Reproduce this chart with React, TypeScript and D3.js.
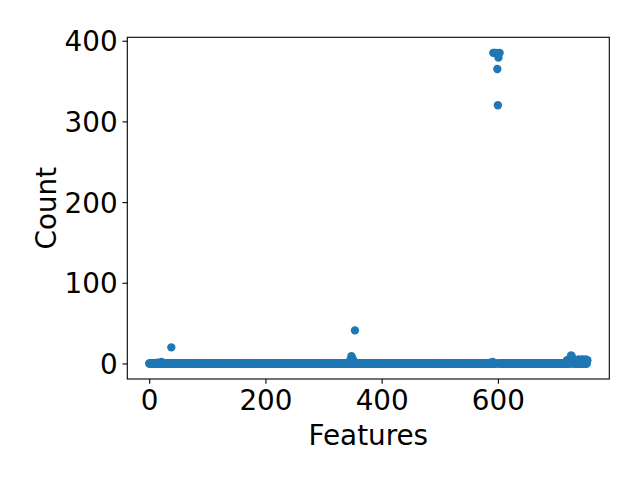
import React, { useRef, useEffect } from 'react';
import * as d3 from 'd3';

// Number of features (x runs 0 .. featureCount - 1); every feature not listed below has count 0
const featureCount = 755;

// Features with a non-zero count: [feature, count]
const nonZeroCounts: [number, number][] = [
  [14, 1], [21, 2], [38, 20],
  [346, 4], [348, 9], [350, 6], [352, 3], [354, 41],
  [587, 1], [591, 2], [592, 385], [594, 385], [597, 385], [599, 365], [600, 320], [601, 379], [603, 385],
  [719, 4], [721, 4], [723, 5], [725, 6], [726, 10], [727, 9], [729, 5], [731, 4], [733, 4],
  [736, 4], [739, 5], [742, 4], [745, 5], [748, 4], [751, 5], [754, 4],
];

const xTicks = [0, 200, 400, 600];
const yTicks = [0, 100, 200, 300, 400];

const xLabel = 'Features';
const yLabel = 'Count';

const App = () => {
  const svgRef = useRef<SVGSVGElement | null>(null);

  useEffect(() => {
    if (!svgRef.current) return;
    d3.select(svgRef.current).selectAll('*').remove();

    const width = 640;
    const height = 480;
    const left = 127.3;
    const right = 609.3;
    const top = 37.3;
    const bottom = 379;

    const countMap = new Map(nonZeroCounts);
    const points = d3.range(featureCount).map(f => ({ f, c: countMap.get(f) ?? 0 }));

    // matplotlib-style 5% margins
    const xMin = 0, xMax = featureCount - 1;
    const xPad = (xMax - xMin) * 0.05;
    const yMax = d3.max(points, d => d.c) as number;
    const yPad = yMax * 0.05;

    const xScale = d3.scaleLinear().domain([xMin - xPad, xMax + xPad]).range([left, right]);
    const yScale = d3.scaleLinear().domain([-yPad, yMax + yPad]).range([bottom, top]);

    const svg = d3.select(svgRef.current)
      .attr('width', width)
      .attr('height', height);

    svg.append('rect')
      .attr('width', width)
      .attr('height', height)
      .attr('fill', '#fff');

    // Points
    svg.append('g')
      .selectAll('circle')
      .data(points)
      .enter()
      .append('circle')
      .attr('cx', d => xScale(d.f))
      .attr('cy', d => yScale(d.c))
      .attr('r', 4.17)
      .attr('fill', '#1f77b4');

    const fontFamily = '"DejaVu Sans", sans-serif';
    const fontSize = 27.8;

    // Axes
    const xAxis = svg.append('g')
      .attr('transform', `translate(0,${bottom})`)
      .call(d3.axisBottom(xScale).tickValues(xTicks).tickSize(4.86).tickPadding(4.86).tickSizeOuter(0));
    const yAxis = svg.append('g')
      .attr('transform', `translate(${left},0)`)
      .call(d3.axisLeft(yScale).tickValues(yTicks).tickSize(4.86).tickPadding(4.86).tickSizeOuter(0));

    [xAxis, yAxis].forEach(ax => {
      ax.select('.domain').remove();
      ax.selectAll('line').attr('stroke', '#000').attr('stroke-width', 1.1);
      ax.selectAll('text')
        .attr('fill', '#000')
        .attr('font-family', fontFamily)
        .attr('font-size', fontSize);
    });
    xAxis.selectAll('text').attr('dy', '0.76em');
    yAxis.selectAll('text').attr('dy', '0.36em');

    // Frame
    svg.append('rect')
      .attr('x', left)
      .attr('y', top)
      .attr('width', right - left)
      .attr('height', bottom - top)
      .attr('fill', 'none')
      .attr('stroke', '#000')
      .attr('stroke-width', 1.1);

    // Labels
    svg.append('text')
      .attr('x', (left + right) / 2)
      .attr('y', 445)
      .attr('text-anchor', 'middle')
      .attr('font-family', fontFamily)
      .attr('font-size', fontSize)
      .text(xLabel);

    svg.append('text')
      .attr('transform', `translate(56,${(top + bottom) / 2}) rotate(-90)`)
      .attr('text-anchor', 'middle')
      .attr('font-family', fontFamily)
      .attr('font-size', fontSize)
      .text(yLabel);
  }, []);

  return (
    <svg ref={svgRef} style={{ position: 'absolute', left: 0, top: 0, display: 'block' }}></svg>
  );
};

export default App;
